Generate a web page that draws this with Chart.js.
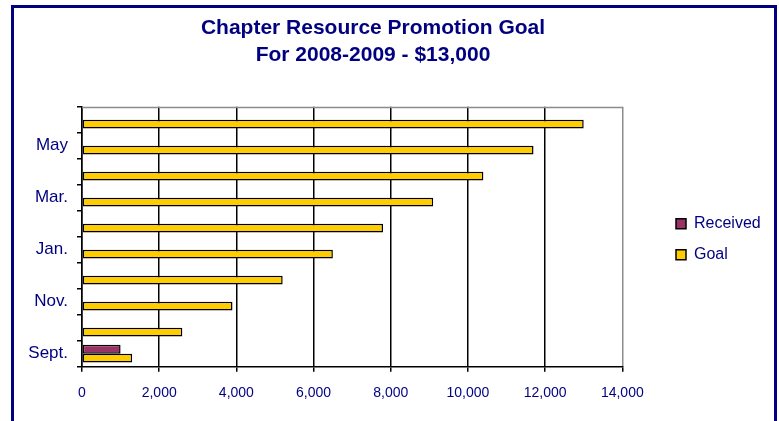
<!DOCTYPE html>
<html>
<head>
<meta charset="utf-8">
<title>Chapter Resource Promotion Goal</title>
<script src="https://cdn.jsdelivr.net/npm/chart.js@4.4.0/dist/chart.umd.min.js"></script>
<style>
  body { margin: 0; background: #fff; overflow: hidden; }
  #frame {
    position: absolute;
    left: 11px;
    top: 5px;
    width: 760px;
    height: 420px;
    border: 3px solid #000080;
    border-bottom: none;
  }
  canvas { display: block; }
</style>
</head>
<body>
<div id="frame"><canvas id="goalChart" width="760" height="413"></canvas></div>
<script>
var months = ["Sept.", "Oct.", "Nov.", "Dec.", "Jan.", "Feb.", "Mar.", "Apr.", "May", "June"];
var received = [1000, null, null, null, null, null, null, null, null, null];
var goal = [1300, 2600, 3900, 5200, 6500, 7800, 9100, 10400, 11700, 13000];
var xTicks = [0, 2000, 4000, 6000, 8000, 10000, 12000, 14000];

var navy = "#000080";
var fontFamily = "'Liberation Sans', Arial, sans-serif";

// grey line along the top of the plot area
var plotTop = {
    id: "plotTop",
    beforeDatasetsDraw: function (chart) {
        var a = chart.chartArea;
        var ctx = chart.ctx;
        var y = Math.round(a.top) + 0.5;
        ctx.save();
        ctx.strokeStyle = "#8c8c8c";
        ctx.lineWidth = 1.5;
        ctx.beginPath();
        ctx.moveTo(a.left, y);
        ctx.lineTo(a.right, y);
        ctx.stroke();
        ctx.restore();
    }
};

// push the legend away from the plot, out towards the right edge
var legendSpot = {
    id: "legendSpot",
    afterLayout: function (chart) {
        var lg = chart.legend;
        var w = lg.width;
        lg.left = 647;
        lg.right = 647 + w;
        lg.top += 2.5;
        lg.bottom += 2.5;
    }
};

var ctx = document.getElementById("goalChart").getContext("2d");

var chart = new Chart(ctx, {
    type: "bar",
    data: {
        labels: months,
        datasets: [{
            label: "Received",
            data: received,
            backgroundColor: "#993366",
            borderColor: "#000",
            borderWidth: 1.5,
            borderSkipped: false
        }, {
            label: "Goal",
            data: goal,
            backgroundColor: "#FFCC00",
            borderColor: "#000",
            borderWidth: 1.5,
            borderSkipped: false
        }]
    },
    options: {
        indexAxis: "y",
        responsive: false,
        animation: false,
        devicePixelRatio: 1,
        layout: { padding: { left: 0, right: 42, top: 0, bottom: 0 } },
        datasets: {
            bar: { categoryPercentage: 0.68, barPercentage: 1.0 }
        },
        scales: {
            x: {
                min: 0,
                max: 14000,
                afterBuildTicks: function (scale) {
                    scale.ticks = xTicks.map(function (v) { return { value: v }; });
                },
                afterFit: function (scale) {
                    scale.height = 54.3;
                },
                grid: {
                    color: function (c) {
                        return c.tick && c.tick.value === xTicks[xTicks.length - 1] ? "#8c8c8c" : "#000";
                    },
                    tickColor: "#000",
                    tickLength: 5,
                    lineWidth: 1.5
                },
                border: { color: "#000", width: 1.5 },
                ticks: {
                    color: navy,
                    font: { family: fontFamily, size: 14 },
                    padding: 13,
                    maxRotation: 0,
                    callback: function (v) { return Number(v).toLocaleString("en-US"); }
                }
            },
            y: {
                reverse: true,
                afterFit: function (scale) {
                    scale.width = 68;
                },
                grid: {
                    drawOnChartArea: false,
                    offset: true,
                    color: "#000",
                    lineWidth: 1.5,
                    tickLength: 5
                },
                border: { color: "#000", width: 1.5 },
                ticks: {
                    autoSkip: false,
                    color: navy,
                    font: { family: fontFamily, size: 17 },
                    padding: 9,
                    callback: function (value, index) {
                        return index % 2 === 0 ? months[index] : "";
                    }
                }
            }
        },
        plugins: {
            title: {
                display: true,
                text: ["Chapter Resource Promotion Goal", "For 2008-2009 - $13,000"],
                color: navy,
                font: { family: fontFamily, size: 21, weight: "bold", lineHeight: 1.252 },
                padding: { top: 7.5, bottom: 38.6 }
            },
            legend: {
                position: "right",
                fullSize: false,
                labels: {
                    color: navy,
                    font: { family: fontFamily, size: 16 },
                    boxWidth: 10,
                    boxHeight: 10,
                    padding: 15
                }
            },
            tooltip: { enabled: false }
        }
    },
    plugins: [plotTop, legendSpot]
});
</script>
</body>
</html>
